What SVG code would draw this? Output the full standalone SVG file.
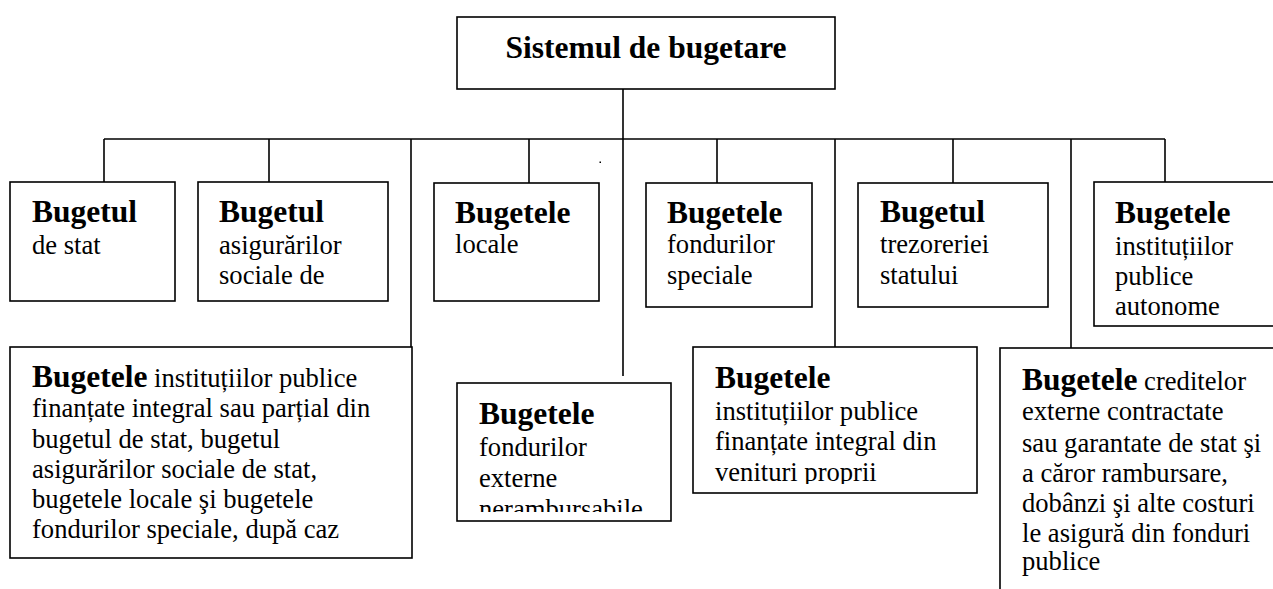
<svg xmlns="http://www.w3.org/2000/svg" width="1273" height="589" viewBox="0 0 1273 589">
<style>
.box{fill:#fff;stroke:#000;stroke-width:1.6}
.ln{stroke:#000;stroke-width:1.6;fill:none}
text{font-family:"Liberation Serif","Times New Roman",serif;font-size:26.6px;fill:#000}
.b{font-weight:bold;font-size:31.5px}
</style>
<defs>
<clipPath id="c8"><rect x="457" y="383" width="214" height="129"/></clipPath>
<clipPath id="c9"><rect x="693" y="347" width="284" height="137"/></clipPath>
</defs>
<rect width="1273" height="589" fill="#fff"/>
<g id="connectors">
<line class="ln" x1="623" y1="89" x2="623" y2="376"/>
<line class="ln" x1="104" y1="139" x2="1165" y2="139"/>
<line class="ln" x1="104" y1="139" x2="104" y2="182"/>
<line class="ln" x1="269" y1="139" x2="269" y2="182"/>
<line class="ln" x1="411" y1="139" x2="411" y2="347"/>
<line class="ln" x1="529" y1="139" x2="529" y2="188"/>
<line class="ln" x1="717" y1="139" x2="717" y2="183"/>
<line class="ln" x1="835" y1="139" x2="835" y2="347"/>
<line class="ln" x1="953" y1="139" x2="953" y2="183"/>
<line class="ln" x1="1071" y1="139" x2="1071" y2="348"/>
<line class="ln" x1="1165" y1="139" x2="1165" y2="182"/>
<rect x="599.5" y="161.5" width="1.5" height="1.5" fill="#000"/>
</g>
<g id="root">
<rect class="box" x="457" y="17" width="378" height="72"/>
<text class="b" x="646" y="58" text-anchor="middle">Sistemul de bugetare</text>
</g>
<g id="n1">
<rect class="box" x="10" y="182" width="165" height="119"/>
<text class="b" x="32" y="222">Bugetul</text>
<text x="32" y="254">de stat</text>
</g>
<g id="n2">
<rect class="box" x="198" y="182" width="190" height="119"/>
<text class="b" x="219" y="222">Bugetul</text>
<text x="219" y="254">asigurărilor</text>
<text x="219" y="284">sociale de</text>
</g>
<g id="n3">
<rect class="box" x="434" y="183" width="165" height="118"/>
<text class="b" x="455" y="223">Bugetele</text>
<text x="455" y="253">locale</text>
</g>
<g id="n4">
<rect class="box" x="646" y="183" width="166" height="124"/>
<text class="b" x="667" y="223">Bugetele</text>
<text x="667" y="253">fondurilor</text>
<text x="667" y="284">speciale</text>
</g>
<g id="n5">
<rect class="box" x="858" y="183" width="190" height="124"/>
<text class="b" x="880" y="222">Bugetul</text>
<text x="880" y="253">trezoreriei</text>
<text x="880" y="284">statului</text>
</g>
<g id="n6">
<rect class="box" x="1094" y="182" width="200" height="144"/>
<text class="b" x="1115" y="223">Bugetele</text>
<text x="1115" y="255">instituțiilor</text>
<text x="1115" y="285">publice</text>
<text x="1115" y="315">autonome</text>
</g>
<g id="n7">
<rect class="box" x="10" y="347" width="402" height="211"/>
<text x="32" y="387"><tspan class="b">Bugetele</tspan> instituțiilor publice</text>
<text x="32" y="417">finanțate integral sau parțial din</text>
<text x="32" y="448">bugetul de stat, bugetul</text>
<text x="32" y="478">asigurărilor sociale de stat,</text>
<text x="32" y="508">bugetele locale şi bugetele</text>
<text x="32" y="538">fondurilor speciale, după caz</text>
</g>
<g id="n8">
<rect class="box" x="457" y="383" width="214" height="138"/>
<g clip-path="url(#c8)">
<text class="b" x="479" y="424">Bugetele</text>
<text x="479" y="456">fondurilor</text>
<text x="479" y="487">externe</text>
<text x="479" y="518">nerambursabile</text>
</g>
</g>
<g id="n9">
<rect class="box" x="693" y="347" width="284" height="146"/>
<g clip-path="url(#c9)">
<text class="b" x="715" y="388">Bugetele</text>
<text x="715" y="420">instituțiilor publice</text>
<text x="715" y="450">finanțate integral din</text>
<text x="715" y="481">venituri proprii</text>
</g>
</g>
<g id="n10">
<rect class="box" x="1000" y="348" width="300" height="260"/>
<text x="1022" y="390"><tspan class="b">Bugetele</tspan> creditelor</text>
<text x="1022" y="420">externe contractate</text>
<text x="1022" y="452">sau garantate de stat şi</text>
<text x="1022" y="482">a căror rambursare,</text>
<text x="1022" y="512">dobânzi şi alte costuri</text>
<text x="1022" y="542">le asigură din fonduri</text>
<text x="1022" y="570">publice</text>
</g>
</svg>
